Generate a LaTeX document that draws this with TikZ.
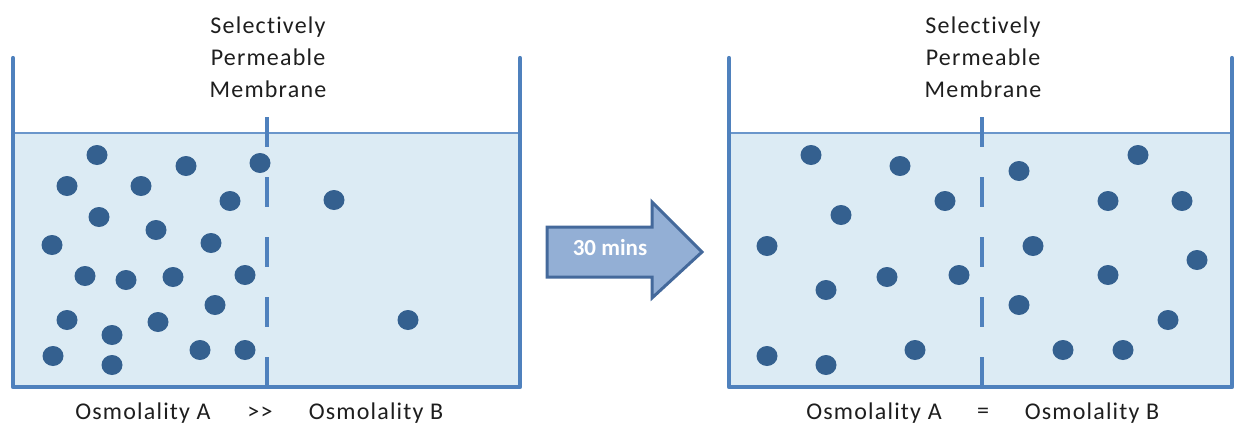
\documentclass[tikz,border=0pt]{standalone}
\usepackage{fontspec}
\setmainfont{Carlito}
\newfontfamily\lblfont{Carlito}[LetterSpace=5, Ligatures={NoCommon}]
\definecolor{wall}{HTML}{4F81BD}
\definecolor{water}{HTML}{DCEBF4}
\definecolor{waterline}{HTML}{6A96CB}
\definecolor{dotc}{HTML}{34608F}
\definecolor{arrowfill}{HTML}{93AFD5}
\definecolor{arrowedge}{HTML}{44699B}
\definecolor{txt}{HTML}{1E1E1E}
\tikzset{
  wallline/.style={draw=wall, line width=4.2pt, line cap=round, line join=round},
  membr/.style={draw=wall, line width=3.2pt, dash pattern=on 30pt off 30pt},
  particle/.style={fill=dotc, draw=none},
  lbl/.style={font=\lblfont\fontsize{24}{32}\selectfont, text=txt, inner sep=0pt, align=center},
}
\begin{document}
\begin{tikzpicture}[x=1pt,y=-1pt]
\useasboundingbox (0,0) rectangle (1234,428);
% ---------- left beaker ----------
\fill[water] (13,133) rectangle (520,387);
\draw[waterline, line width=1.6pt] (13,133) -- (520,133);
\draw[membr] (267,117) -- (267,387);
\draw[wallline] (13,58) -- (13,387) -- (520,387) -- (520,58);
\foreach \px/\py in {97/155,186/166,260/163,67/186,141/186,230/201,334/200,99/217,156/230,52/245,211/243,85/276,126/280,173/277,245/275,215/305,67/320,158/322,112/335,408/320,53/356,112/365,200/350,245/350}
  \fill[particle] (\px,\py) ellipse [x radius=10.5, y radius=10];
\node[lbl] (memA) at (268,57) {Selectively\\Permeable\\Membrane};
\node[lbl] (osmAA) at (143,413) {Osmolality A};
\node[lbl] (gg) at (260,413) {>>};
\node[lbl] (osmAB) at (376,413) {Osmolality B};
% ---------- arrow ----------
\draw[fill=arrowfill, draw=arrowedge, line width=3pt, line join=miter]
  (547,227) -- (652,227) -- (652,202) -- (702,252) -- (652,298) -- (652,277) -- (547,277) -- cycle;
\node[font=\bfseries\fontsize{23}{26}\selectfont, text=white, inner sep=0pt] (time) at (610,248) {30 mins};
% ---------- right beaker ----------
\fill[water] (729,133) rectangle (1232,387);
\draw[waterline, line width=1.6pt] (729,133) -- (1232,133);
\draw[membr] (982,117) -- (982,387);
\draw[wallline] (729,58) -- (729,387) -- (1232,387) -- (1232,58);
\foreach \px/\py in {811/155,900/166,945/201,841/215,767/246,887/277,959/275,826/290,767/356,826/365,915/350,1019/171,1138/155,1108/201,1182/201,1033/246,1197/260,1108/275,1019/305,1168/320,1063/350,1123/350}
  \fill[particle] (\px,\py) ellipse [x radius=10.5, y radius=10];
\node[lbl] (memB) at (983,57) {Selectively\\Permeable\\Membrane};
\node[lbl] (osmBA) at (874,413) {Osmolality A};
\node[lbl] (eq) at (983,413) {=};
\node[lbl] (osmBB) at (1092,413) {Osmolality B};
\end{tikzpicture}
\end{document}
